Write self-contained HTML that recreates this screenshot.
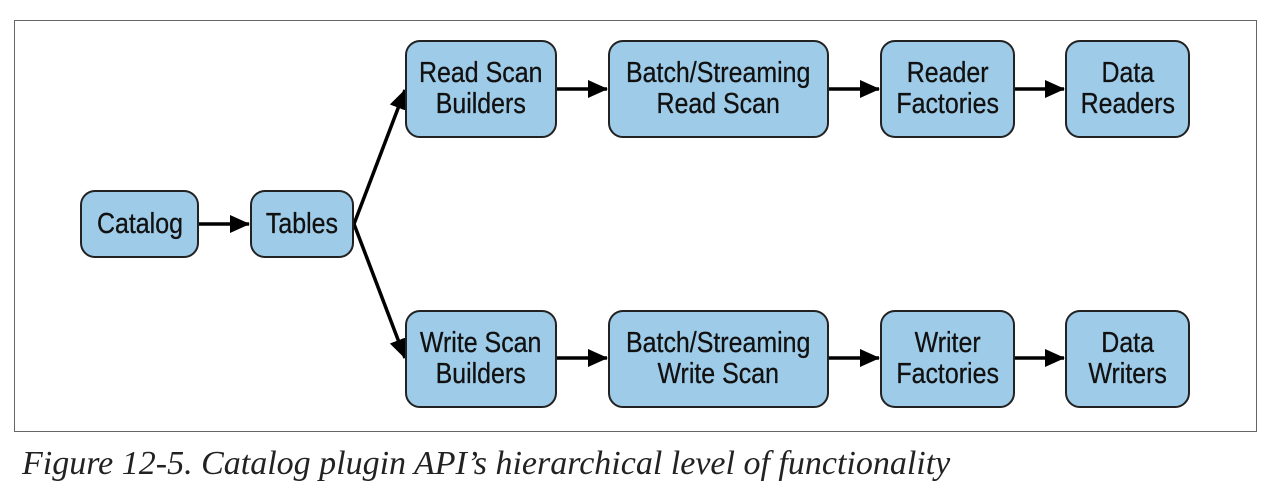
<!DOCTYPE html>
<html><head><style>
body{margin:0;background:#fff;width:1274px;height:498px;overflow:hidden;position:relative}
.frame{position:absolute;left:14px;top:20px;width:1243px;height:412px;border:1.5px solid #666;box-sizing:border-box}
.b{position:absolute;background:#9ecbe8;border:2px solid #222;border-radius:15px;box-sizing:border-box;display:flex;align-items:center;justify-content:center;text-align:center;font-family:"Liberation Sans",sans-serif;font-size:29px;line-height:31px;color:#111}
.b span{display:inline-block;transform:scaleX(0.86);white-space:nowrap;-webkit-text-stroke:0.3px #111}
.cap{position:absolute;left:22px;top:445px;font-family:"Liberation Serif",serif;font-style:italic;font-size:34px;color:#222;white-space:nowrap}
svg{position:absolute;left:0;top:0}
</style></head><body>
<div class="frame"></div>
<svg width="1274" height="498">
<defs>
<marker id="m" markerWidth="20" markerHeight="20" refX="19" refY="10" orient="auto" markerUnits="userSpaceOnUse"><path d="M0,1 L20,10 L0,19z" fill="#000"/></marker></defs>
<g stroke="#000" stroke-width="3.5" fill="none">
<line x1="199" y1="224" x2="249" y2="224" marker-end="url(#m)"/>
<line x1="354" y1="224" x2="405" y2="90" marker-end="url(#m)"/>
<line x1="354" y1="224" x2="405" y2="358" marker-end="url(#m)"/>
<line x1="557" y1="89" x2="607" y2="89" marker-end="url(#m)"/>
<line x1="829" y1="89" x2="879" y2="89" marker-end="url(#m)"/>
<line x1="1015" y1="89" x2="1064" y2="89" marker-end="url(#m)"/>
<line x1="557" y1="358" x2="607" y2="358" marker-end="url(#m)"/>
<line x1="829" y1="358" x2="879" y2="358" marker-end="url(#m)"/>
<line x1="1015" y1="358" x2="1064" y2="358" marker-end="url(#m)"/>
</g></svg>
<div class="b" style="left:80px;top:190px;width:119px;height:68px"><span>Catalog</span></div>
<div class="b" style="left:250px;top:190px;width:104px;height:68px"><span>Tables</span></div>
<div class="b" style="left:405px;top:40px;width:152px;height:98px"><span>Read Scan<br>Builders</span></div>
<div class="b" style="left:608px;top:40px;width:221px;height:98px"><span>Batch/Streaming<br>Read Scan</span></div>
<div class="b" style="left:880px;top:40px;width:135px;height:98px"><span>Reader<br>Factories</span></div>
<div class="b" style="left:1065px;top:40px;width:125px;height:98px"><span>Data<br>Readers</span></div>
<div class="b" style="left:405px;top:310px;width:152px;height:98px"><span>Write Scan<br>Builders</span></div>
<div class="b" style="left:608px;top:310px;width:221px;height:98px"><span>Batch/Streaming<br>Write Scan</span></div>
<div class="b" style="left:880px;top:310px;width:135px;height:98px"><span>Writer<br>Factories</span></div>
<div class="b" style="left:1065px;top:310px;width:125px;height:98px"><span>Data<br>Writers</span></div>
<div class="cap">Figure 12-5. Catalog plugin API’s hierarchical level of functionality</div>
</body></html>
